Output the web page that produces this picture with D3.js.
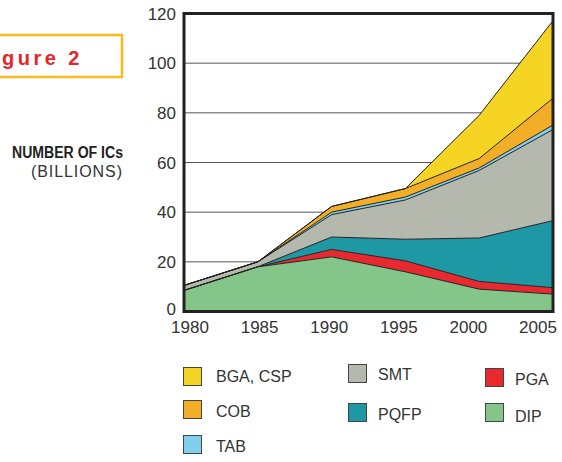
<!DOCTYPE html>
<html><head><meta charset="utf-8">
<script src="https://cdn.jsdelivr.net/npm/d3@7"></script>
<style>
html,body{margin:0;padding:0;background:#fff;}
svg{display:block;font-family:"Liberation Sans",Arial,sans-serif;}
</style></head>
<body>
<script>
const years = [1980, 1985, 1990, 1995, 2000, 2005];
const DIP  = [8.5, 18, 22, 16, 9, 7];
const PGA  = [0, 0, 3, 4.4, 3.1, 2.6];
const PQFP = [0, 0, 5, 8.7, 17.5, 27];
const SMT  = [2, 2, 9, 15.8, 27.2, 36.7];
const TAB  = [0, 0, 1, 1.2, 1, 1.8];
const COB  = [0, 0, 2.3, 3.4, 3.8, 10.8];
const BGA  = [0, 0, 0, 0, 17.4, 31.2];
const seriesNames = ["DIP", "PGA", "PQFP", "SMT", "TAB", "COB", "BGA"];
const seriesLabels = {DIP:"DIP", PGA:"PGA", PQFP:"PQFP", SMT:"SMT", TAB:"TAB", COB:"COB", BGA:"BGA, CSP"};
const yTicks = [0, 20, 40, 60, 80, 100, 120];
const xTicks = [1980, 1985, 1990, 1995, 2000, 2005];
const colors = {BGA:"#f5d423", COB:"#f3ae27", TAB:"#7fd0ef", SMT:"#b5b8ad", PQFP:"#1f98a6", PGA:"#e8292f", DIP:"#84c68a"};

const seriesData = {DIP, PGA, PQFP, SMT, TAB, COB, BGA};
const table = years.map((y, i) => {
  const row = {year: y};
  seriesNames.forEach(k => row[k] = seriesData[k][i]);
  return row;
});

const W = 562, H = 462;
const svg = d3.select("body").append("svg").attr("width", W).attr("height", H);

const x = d3.scaleLinear().domain([1980, 2005]).range([184, 553]);
const xLab = d3.scaleLinear().domain([1980, 2005]).range([190, 538]);
const y = d3.scaleLinear().domain([0, 120]).range([311.5, 13.5]);

// gridlines
svg.append("g").selectAll("line").data(yTicks.filter(t => t > 0 && t < 120)).join("line")
  .attr("x1", x(1980)).attr("x2", x(2005))
  .attr("y1", d => y(d)).attr("y2", d => y(d))
  .attr("stroke", "#555").attr("stroke-width", 1);

const stack = d3.stack().keys(seriesNames);
const layers = stack(table);

const area = d3.area().x(d => x(d.data.year)).y0(d => y(d[0])).y1(d => y(d[1]));
const topLine = d3.line().x(d => x(d.data.year)).y(d => y(d[1]));

svg.append("g").selectAll("path").data(layers).join("path")
  .attr("d", area).attr("fill", d => colors[d.key]);
svg.append("g").selectAll("path").data(layers).join("path")
  .attr("d", topLine).attr("fill", "none").attr("stroke", "#222").attr("stroke-width", 1).attr("stroke-linejoin", "round");

// frame
svg.append("rect").attr("x", x(1980)).attr("y", y(120))
  .attr("width", x(2005) - x(1980)).attr("height", y(0) - y(120))
  .attr("fill", "none").attr("stroke", "#222").attr("stroke-width", 3);

// y labels
svg.append("g").selectAll("text").data(yTicks).join("text")
  .attr("x", 176).attr("y", d => y(d) - (d === 0 ? 3 : 0)).attr("dy", "0.36em")
  .attr("text-anchor", "end").attr("font-size", 17).attr("fill", "#333")
  .text(d => d);

// x labels
svg.append("g").selectAll("text").data(xTicks).join("text")
  .attr("x", d => xLab(d)).attr("y", 333)
  .attr("text-anchor", "middle").attr("font-size", 17).attr("fill", "#333")
  .text(d => d);

// figure label box
svg.append("rect").attr("x", -10).attr("y", 35).attr("width", 132).attr("height", 42)
  .attr("fill", "none").attr("stroke", "#f7b91b").attr("stroke-width", 2.5);
svg.append("text").attr("x", 83).attr("y", 65).attr("text-anchor", "end")
  .attr("font-size", 20).attr("font-weight", "bold").attr("fill", "#e3262c")
  .attr("letter-spacing", 3.5).text("Figure 2");

// axis title
svg.append("text").attr("x", 123).attr("y", 158).attr("text-anchor", "end")
  .attr("font-size", 16).attr("font-weight", "bold").attr("fill", "#222")
  .attr("textLength", 111).attr("lengthAdjust", "spacingAndGlyphs").text("NUMBER OF ICs");
svg.append("text").attr("x", 122).attr("y", 177).attr("text-anchor", "end")
  .attr("font-size", 16).attr("fill", "#333")
  .attr("textLength", 91).attr("lengthAdjust", "spacing").text("(BILLIONS)");

// legend
const legendItems = [
  {k:"BGA", sx:183, sy:367, tx:216, ty:382},
  {k:"COB", sx:183, sy:400, tx:216, ty:417},
  {k:"TAB", sx:183, sy:435, tx:216, ty:452},
  {k:"SMT", sx:348, sy:364, tx:378, ty:380},
  {k:"PQFP", sx:348, sy:403, tx:378, ty:420},
  {k:"PGA", sx:485, sy:368, tx:515, ty:385},
  {k:"DIP", sx:485, sy:403, tx:515, ty:422}
];
const lg = svg.append("g").selectAll("g").data(legendItems).join("g");
lg.append("rect").attr("x", d => d.sx + 0.5).attr("y", d => d.sy + 0.5)
  .attr("width", 18).attr("height", 18).attr("fill", d => colors[d.k])
  .attr("stroke", "#444").attr("stroke-width", 1);
lg.append("text").attr("x", d => d.tx).attr("y", d => d.ty)
  .attr("font-size", 16).attr("fill", "#333").text(d => seriesLabels[d.k]);
</script>
</body></html>
